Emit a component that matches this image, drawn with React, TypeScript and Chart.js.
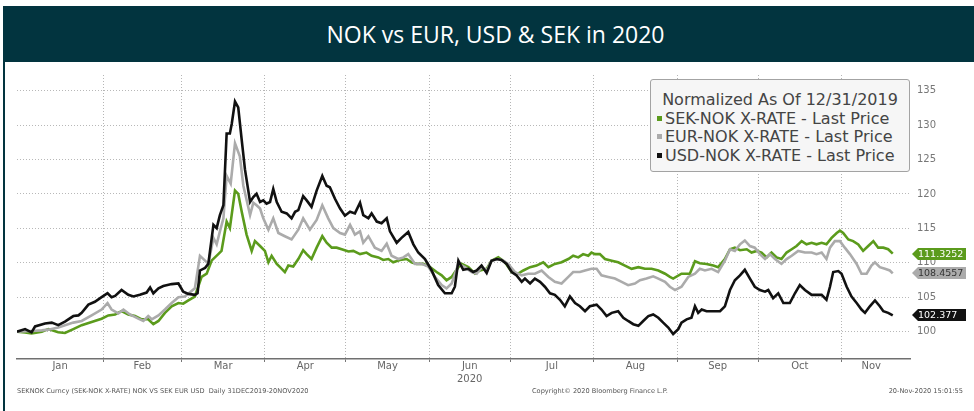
import React, { useEffect, useRef } from "react";
import { Chart, registerables } from "chart.js";
Chart.register(...registerables);

const TITLE = "NOK vs EUR, USD & SEK in 2020";
const LEGEND_TITLE = "Normalized As Of 12/31/2019";
const SERIES_NAMES = ["SEK-NOK X-RATE - Last Price", "EUR-NOK X-RATE - Last Price", "USD-NOK X-RATE - Last Price"];
const SERIES_COLORS = ["#5b9b1c", "#ababab", "#111111"];
const TAG_TEXT_COLORS = ["#ffffff", "#333333", "#ffffff"];
const FOOTER_LEFT = "SEKNOK Curncy (SEK-NOK X-RATE) NOK VS SEK EUR USD  Daily 31DEC2019-20NOV2020";
const FOOTER_MID = "Copyright\u00A9 2020 Bloomberg Finance L.P.";
const FOOTER_RIGHT = "20-Nov-2020 15:01:55";

// x = days since 31 Dec 2019
const MONTH_LABELS = [["Jan"], ["Feb"], ["Mar"], ["Apr"], ["May"], ["Jun", "2020"], ["Jul"], ["Aug"], ["Sep"], ["Oct"], ["Nov"]];
const MONTH_LABEL_DAYS = [16, 46.5, 76.5, 107, 137.5, 168, 198.5, 229.5, 260, 290.5, 317];
const MONTH_START_DAYS = [32, 61, 92, 122, 153, 183, 214, 245, 275, 306];
const Y_TICKS = [100, 105, 110, 115, 120, 125, 130, 135];

const SEK_DAYS = [
  0, 3, 5.4, 9.2, 11.6, 15.3, 17.8, 20.9, 24, 27.7,
  31.4, 33.9, 36.4, 38.8, 41.3, 43.8, 46.3, 48.7, 50.6, 52.5,
  54.9, 57.4, 59.9, 61.7, 63.6, 66, 68.5, 70.4, 72.2, 74.7,
  75.9, 77.8, 79, 80.9, 82.1, 83.4, 85.2, 87.1, 88.3, 90.2,
  92, 93.3, 94.5, 96.4, 97.6, 99.4, 100.7, 102.5, 104.4, 106.2,
  107.5, 109.3, 111.2, 113.3, 114.9, 116.8, 118.6, 120.5, 123, 124.8,
  127.3, 129.7, 131.6, 134.1, 135.9, 137.8, 139.6, 142.1, 144.6, 146.4,
  148.3, 150.8, 153.3, 155.7, 157.6, 159.4, 161.3, 163.8, 165, 167.5,
  170, 171.8, 174.3, 176.1, 178.6, 181.1, 183.6, 186, 187.9, 190.4,
  192.8, 195.3, 197.2, 199.6, 202.1, 204.6, 206.4, 208.3, 210.1, 212,
  213.2, 214.5, 216.3, 218.2, 220.7, 223.1, 225.6, 228.1, 230.6, 233,
  235.5, 238, 240.5, 242.3, 243.5, 246.6, 249.7, 251.6, 253.4, 255.9,
  258.4, 260.2, 262.7, 264.6, 266.4, 268.3, 270.8, 272.6, 274.5, 276.3,
  278.2, 280, 281.9, 283.7, 285.6, 287.5, 289.3, 291.2, 293, 294.9,
  296.7, 298.6, 300.4, 302.3, 304.2, 305.4, 306.6, 308.5, 310.3, 312.2,
  314, 315.9, 317.8, 319.6, 321.5, 323.3, 325,
];
const SEK_VALUES = [
  100, 99.9, 99.76, 100, 100.38, 99.91, 99.81, 100.38, 100.95, 101.42,
  101.89, 102.37, 102.51, 102.98, 102.51, 102.27, 101.8, 101.8, 101.09, 101.56,
  102.74, 103.69, 104.16, 104.07, 104.54, 105.11, 107.95, 108.42, 110.31, 111.26,
  111.73, 115.99, 115.04, 120.48, 120.01, 117.41, 114.1, 111.73, 113.15, 112.44,
  111.73, 110.08, 111.02, 109.84, 109.37, 108.66, 109.6, 109.46, 110.55, 111.83,
  111.26, 110.55, 112.2, 113.86, 112.91, 112.2, 112.2, 111.97, 111.64, 111.73,
  111.26, 111.49, 111.02, 110.79, 110.41, 110.55, 110.08, 110.41, 110.55, 110.08,
  109.84, 109.84, 109.37, 108.66, 108.18, 107.47, 107.95, 109.37, 109.84, 109.37,
  108.42, 108.89, 109.13, 110.31, 110.79, 110.08, 108.66, 108.42, 108.89, 109.37,
  109.6, 110.08, 109.37, 109.84, 110.08, 110.55, 111.02, 110.79, 111.26, 111.02,
  111.49, 111.26, 111.26, 110.55, 110.31, 110.08, 109.6, 109.13, 109.37, 109.13,
  109.13, 108.89, 108.42, 107.95, 107.71, 108.42, 108.42, 110.22, 109.93, 109.84,
  109.6, 109.37, 110.55, 111.97, 112.2, 111.83, 111.97, 111.49, 111.73, 111.49,
  110.79, 111.49, 110.79, 110.55, 111.49, 111.97, 112.44, 113.15, 112.68, 112.91,
  112.68, 112.91, 112.68, 113.62, 114.33, 114.66, 114.33, 113.39, 113.15, 112.68,
  111.73, 112.44, 113.15, 112.2, 112.2, 111.97, 111.3252,
];

const EUR_DAYS = [
  0, 5.4, 9.2, 11.6, 15.3, 17.8, 20.9, 24, 27.7, 31.4,
  33.6, 35.1, 37.6, 39.5, 41.9, 45, 46.9, 48.7, 50, 52.5,
  54.9, 57.4, 59.9, 62.3, 66, 67.9, 69.8, 71, 72.9, 74.1,
  75.3, 76.6, 77.8, 79.3, 80.9, 82.7, 84, 86.5, 87.7, 88.9,
  90.2, 91.4, 93.3, 95.1, 97, 99.4, 101.9, 104.4, 106.2, 108.7,
  111.2, 113.3, 115.5, 117.4, 119.9, 121.7, 123.6, 125.4, 127.3, 128.5,
  130.4, 132.8, 135.3, 137.2, 139, 141.5, 143.4, 145.2, 147.7, 150.2,
  152.6, 155.1, 157.6, 159.4, 161.3, 163.8, 166.2, 168.7, 170.6, 172.4,
  174.3, 176.1, 178.6, 180.5, 182.3, 184.8, 187.3, 189.7, 192.2, 194.7,
  197.2, 199.6, 202.1, 204.6, 206.4, 208.9, 210.8, 213.2, 215.1, 216.9,
  219.4, 221.9, 224.4, 226.8, 229.3, 231.2, 233.6, 236.1, 238, 240.5,
  242.3, 244.2, 246.6, 249.1, 251.6, 253.4, 255.3, 257.8, 260.2, 262.7,
  264.6, 266.4, 268.3, 270.1, 272, 273.8, 275.7, 277.6, 279.4, 281.3,
  283.7, 285.6, 287.5, 289.9, 292.4, 294.9, 296.7, 298.6, 300.4, 301.7,
  303.5, 305.4, 307.2, 309.1, 311.6, 313.4, 315.3, 317.1, 318.4, 320.2,
  322.1, 323.9, 325,
];
const EUR_VALUES = [
  100, 100.1, 100.2, 100.3, 100.61, 100.95, 101.32, 101.56, 102.37, 103.22,
  104.16, 103.22, 102.65, 103.22, 102.51, 101.89, 101.56, 102.27, 101.8, 102.37,
  103.22, 104.16, 105.01, 105.11, 106.29, 111.02, 110.31, 109.84, 113.62, 112.68,
  114.57, 116.46, 122.61, 121.5, 127.34, 125.45, 121.19, 116.93, 118.73, 118.35,
  117.88, 116.46, 114.81, 116.46, 114.33, 113.86, 113.39, 114.81, 116.46, 114.81,
  116.22, 118.35, 116.46, 115.04, 114.33, 114.1, 115.52, 114.1, 114.57, 112.91,
  113.86, 112.2, 111.73, 112.77, 111.02, 110.55, 110.79, 111.26, 109.84, 109.84,
  109.46, 107.95, 106.76, 106.29, 106.99, 109.84, 109.37, 108.66, 108.42, 109.37,
  108.89, 110.31, 110.55, 110.31, 109.84, 108.66, 108.18, 108.42, 108.42, 108.89,
  107.95, 107.24, 107.0, 107.95, 108.66, 108.66, 108.89, 109.13, 109.13, 108.18,
  107.95, 107.71, 107.24, 106.76, 107.0, 107.47, 107.71, 108.04, 107.71, 107.24,
  106.53, 106.05, 106.53, 107.95, 108.42, 109.13, 108.89, 109.13, 108.66, 110.31,
  111.97, 111.73, 112.68, 113.25, 112.44, 112.2, 111.26, 110.55, 111.26, 110.55,
  109.84, 110.55, 111.02, 111.73, 111.49, 111.49, 111.26, 111.49, 110.55, 112.2,
  113.15, 113.15, 112.2, 111.26, 109.84, 108.42, 108.42, 109.6, 110.08, 109.37,
  109.13, 108.89, 108.4557,
];

const USD_DAYS = [
  0, 3, 5.4, 6.7, 10.4, 12.9, 15.3, 17.8, 20.9, 22.8,
  24, 26.5, 28.9, 31.4, 33.6, 35.1, 36.4, 38.8, 41.3, 43.2,
  45.6, 48.1, 49.4, 50.6, 52.5, 54.3, 57.4, 59.9, 61.7, 63.6,
  66, 67, 67.9, 69.8, 71, 72.9, 74.1, 75.3, 76.6, 77.8,
  79, 79.7, 80.9, 82.1, 83.4, 84.6, 86.5, 87.7, 88.9, 90.2,
  91.4, 92.6, 93.9, 95.1, 96.4, 98.2, 100.1, 101.9, 103.2, 104.4,
  106.2, 107.5, 109.3, 111.2, 113.3, 114.9, 116.1, 118, 119.9, 121.7,
  123.6, 125.4, 127.3, 128.5, 130.4, 131.6, 133.5, 135.3, 137.2, 138.4,
  140.9, 142.7, 145.2, 147.1, 148.9, 151.4, 153.9, 156.3, 158.8, 161.3,
  162.5, 163.8, 165.6, 167.5, 169.3, 170.6, 172.4, 174.3, 176.1, 178,
  179.8, 181.7, 183.6, 185.4, 187.3, 188.5, 190.4, 192.2, 194.1, 195.9,
  197.8, 199.6, 201.5, 203.3, 205.2, 207.1, 208.9, 210.8, 212.6, 215.1,
  216.9, 218.8, 220.7, 223.1, 225, 226.8, 228.7, 230.6, 232.4, 234.3,
  236.1, 238, 239.8, 241.7, 243.5, 245.4, 246.6, 248.5, 250.3, 251.6,
  252.8, 254.1, 255.9, 258.4, 260.9, 262.7, 264.6, 266.4, 268.3, 270.1,
  272, 273.8, 275.7, 277.6, 278.8, 280.6, 282.5, 284.4, 286.8, 288.7,
  290.5, 292.4, 294.9, 296.7, 298.6, 300.4, 301.7, 302.9, 304.8, 306,
  307.9, 309.7, 311.6, 313.4, 314.7, 316.5, 318.4, 320.2, 321.5, 323.3,
  325,
];
const USD_VALUES = [
  100, 100.38, 99.91, 100.76, 101.18, 101.32, 100.95, 101.47, 102.27, 102.37,
  102.74, 103.93, 104.35, 105.01, 105.58, 105.01, 105.2, 106.05, 105.35, 105.11,
  105.35, 105.68, 106.43, 105.58, 106.29, 106.62, 106.91, 107.0, 105.82, 105.49,
  105.35, 105.58, 108.89, 109.27, 109.84, 115.52, 115.04, 116.93, 118.35, 128.76,
  128.76, 130.18, 133.4, 132.55, 127.81, 123.56, 118.83, 119.54, 120.01, 118.83,
  119.06, 118.59, 118.83, 120.72, 118.83, 117.41, 117.17, 116.46, 117.41, 117.64,
  119.68, 119.06, 118.12, 120.48, 122.61, 121.19, 120.96, 119.3, 117.88, 116.84,
  117.41, 117.17, 118.73, 116.93, 116.46, 117.17, 115.99, 115.75, 116.46, 114.57,
  112.91, 113.62, 114.47, 112.68, 111.49, 110.55, 108.89, 106.76, 105.58, 105.58,
  106.53, 110.31, 108.99, 109.13, 108.66, 108.89, 109.6, 108.51, 110.31, 110.55,
  110.41, 109.84, 108.66, 108.18, 107.24, 107.71, 107.0, 107.71, 107.24, 106.53,
  105.58, 105.35, 104.64, 103.69, 105.11, 104.16, 103.69, 102.98, 103.69, 103.93,
  103.22, 102.27, 102.74, 102.98, 102.03, 101.56, 101.09, 100.85, 101.56, 102.27,
  102.51, 102.03, 101.32, 100.61, 99.67, 100.38, 101.32, 101.8, 102.03, 103.69,
  102.74, 103.22, 102.98, 102.98, 102.98, 103.69, 106.05, 107.47, 108.18, 108.99,
  107.71, 106.53, 106.05, 105.82, 106.05, 104.87, 105.58, 104.16, 104.16, 105.58,
  106.76, 106.05, 105.35, 105.35, 105.35, 104.64, 106.53, 108.66, 108.8, 108.42,
  106.53, 105.11, 104.16, 103.22, 102.74, 103.69, 104.54, 103.69, 102.98, 102.74,
  102.377,
];

const X_MIN = 0;
const X_MAX = 331.4;
const Y_MIN = 96.04;
const Y_MAX = 137.26;

const zip = (xs: number[], ys: number[]) => {
  const n = Math.min(xs.length, ys.length);
  const out: { x: number; y: number }[] = [];
  for (let i = 0; i < n; i++) out.push({ x: xs[i], y: ys[i] });
  return out;
};

const FONT = '"DejaVu Sans", Verdana, sans-serif';

const tagPlugin = {
  id: "valueTags",
  afterDraw(chart: any) {
    const { ctx, chartArea, scales } = chart;
    const y = scales.y;
    chart.data.datasets.forEach((ds: any, i: number) => {
      const last = ds.data[ds.data.length - 1];
      const yy = Math.round(y.getPixelForValue(last.y));
      const x0 = chartArea.right + 2;
      const h = 12;
      const tip = 6;
      const w = 54;
      ctx.save();
      ctx.fillStyle = SERIES_COLORS[i];
      ctx.beginPath();
      ctx.moveTo(x0, yy);
      ctx.lineTo(x0 + tip, yy - h / 2);
      ctx.lineTo(x0 + w, yy - h / 2);
      ctx.lineTo(x0 + w, yy + h / 2);
      ctx.lineTo(x0 + tip, yy + h / 2);
      ctx.closePath();
      ctx.fill();
      ctx.fillStyle = TAG_TEXT_COLORS[i];
      ctx.font = "9.5px " + FONT;
      ctx.textBaseline = "middle";
      ctx.textAlign = "left";
      ctx.fillText(String(last.y), x0 + tip, yy + 0.5);
      ctx.restore();
    });
  },
};

export default function App() {
  const canvasRef = useRef<HTMLCanvasElement | null>(null);

  useEffect(() => {
    if (!canvasRef.current) return;
    const series = [
      { days: SEK_DAYS, values: SEK_VALUES },
      { days: EUR_DAYS, values: EUR_VALUES },
      { days: USD_DAYS, values: USD_VALUES },
    ];
    const chart = new Chart(canvasRef.current, {
      type: "line",
      data: {
        datasets: series.map((s, i) => ({
          label: SERIES_NAMES[i],
          data: zip(s.days, s.values),
          borderColor: SERIES_COLORS[i],
          backgroundColor: SERIES_COLORS[i],
          borderWidth: 2.6,
          pointRadius: 0,
          tension: 0,
          order: 2 - i,
        })),
      },
      options: {
        animation: false,
        responsive: false,
        parsing: false,
        layout: { padding: { left: 12, top: 6, right: 0, bottom: 0 } },
        plugins: { legend: { display: false }, tooltip: { enabled: false } },
        scales: {
          x: {
            type: "linear",
            min: X_MIN,
            max: X_MAX,
            afterBuildTicks: (scale: any) => {
              const vals = [...MONTH_START_DAYS, ...MONTH_LABEL_DAYS].sort((a, b) => a - b);
              scale.ticks = vals.map((v) => ({ value: v }));
            },
            afterFit: (scale: any) => {
              scale.height = 33;
            },
            ticks: {
              autoSkip: false,
              maxRotation: 0,
              padding: -2,
              color: "#666",
              font: { family: FONT, size: 10, lineHeight: 1.3 },
              callback: (value: any) => {
                const idx = MONTH_LABEL_DAYS.indexOf(Number(value));
                return idx >= 0 ? MONTH_LABELS[idx] : "";
              },
            },
            grid: {
              color: (ctx: any) =>
                ctx.tick && MONTH_START_DAYS.includes(ctx.tick.value) ? "#b5b5b5" : "rgba(0,0,0,0)",
              tickColor: (ctx: any) =>
                ctx.tick && MONTH_START_DAYS.includes(ctx.tick.value) ? "#777" : "rgba(0,0,0,0)",
              tickLength: 3,
              lineWidth: 1,
            },
            border: { display: true, color: "#707070", width: 1.5, dash: [1, 2] },
          },
          y: {
            type: "linear",
            position: "right",
            min: Y_MIN,
            max: Y_MAX,
            afterBuildTicks: (scale: any) => {
              scale.ticks = Y_TICKS.map((v) => ({ value: v }));
            },
            afterFit: (scale: any) => {
              scale.width = 64;
            },
            ticks: {
              padding: 7,
              color: "#777",
              font: { family: FONT, size: 10 },
              callback: (value: any) => String(value),
            },
            grid: { color: "#b8b8b8", drawTicks: false, lineWidth: 1 },
            border: { display: false, dash: [1, 2] },
          },
        },
      },
      plugins: [tagPlugin],
    } as any);
    return () => chart.destroy();
  }, []);

  const legendItem = (i: number) => (
    <div key={i} style={{ display: "flex", alignItems: "center", height: 18.5 }}>
      <span
        style={{
          display: "inline-block",
          width: 5,
          height: 5,
          background: SERIES_COLORS[i],
          marginRight: 3,
          marginLeft: 1,
        }}
      />
      <span>{SERIES_NAMES[i]}</span>
    </div>
  );

  return (
    <div
      style={{
        position: "fixed",
        left: 0,
        top: 0,
        width: 974,
        height: 411,
        background: "#fff",
        overflow: "hidden",
      }}
    >
      <div
        style={{
          position: "absolute",
          left: 3,
          top: 6,
          width: 971,
          height: 56,
          background: "#02343f",
          color: "#fff",
          display: "flex",
          alignItems: "center",
          justifyContent: "center",
          paddingLeft: 14,
          boxSizing: "border-box",
          fontFamily: '"Open Sans", sans-serif',
          fontWeight: 500,
          fontSize: 23,
        }}
      >
        {TITLE}
      </div>
      <div style={{ position: "absolute", left: 3, top: 62, width: 2, height: 349, background: "#02343f" }} />
      <canvas
        ref={canvasRef}
        width={969}
        height={330}
        style={{ position: "absolute", left: 5, top: 62, width: 969, height: 330, display: "block" }}
      />
      <div
        style={{
          position: "absolute",
          left: 650,
          top: 79,
          width: 260,
          height: 93,
          boxSizing: "border-box",
          border: "1.5px solid #a3a3a3",
          borderRadius: 3,
          background: "#f6f6f6",
          fontFamily: FONT,
          fontSize: 16,
          color: "#444",
          paddingTop: 10,
          paddingLeft: 5,
        }}
      >
        <div style={{ height: 19, lineHeight: "19px", textAlign: "center", marginLeft: -5 }}>{LEGEND_TITLE}</div>
        {[0, 1, 2].map(legendItem)}
      </div>
      <div
        style={{
          position: "absolute",
          left: 17,
          top: 387,
          fontFamily: FONT,
          fontSize: 6.6,
          color: "#555",
          whiteSpace: "pre",
        }}
      >
        {FOOTER_LEFT}
      </div>
      <div
        style={{
          position: "absolute",
          left: 532,
          top: 387,
          fontFamily: FONT,
          fontSize: 6.6,
          color: "#555",
          whiteSpace: "pre",
        }}
      >
        {FOOTER_MID}
      </div>
      <div
        style={{
          position: "absolute",
          right: 11,
          top: 387,
          fontFamily: FONT,
          fontSize: 6.6,
          color: "#555",
          whiteSpace: "pre",
        }}
      >
        {FOOTER_RIGHT}
      </div>
    </div>
  );
}
